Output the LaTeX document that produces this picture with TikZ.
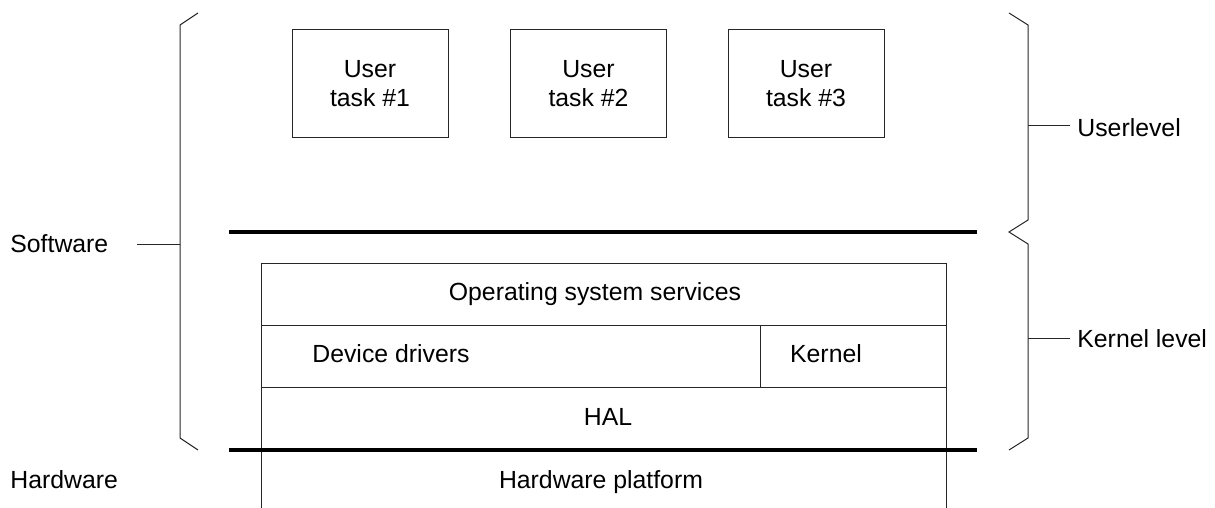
\documentclass[tikz,border=0pt]{standalone}
\usepackage{fontspec}
\setmainfont{Liberation Sans}
\begin{document}
\begin{tikzpicture}[x=0.5pt,y=-0.5pt,
  every node/.style={font=\fontsize{12.4}{14.5}\selectfont, inner sep=0pt},
  thin line/.style={line width=0.5pt, black!85},
  bar/.style={line width=2pt, black},
  label/.style={anchor=base west},
  celltext/.style={anchor=base},
  taskbox/.style={draw, thin line, text=black, minimum width=78pt, minimum height=54pt, align=center}]
\useasboundingbox (0,0) rectangle (1215,508);

% user tasks
\node[taskbox] (t1) at (370,84) {User\\task \#1};
\node[taskbox] (t2) at (588.5,84) {User\\task \#2};
\node[taskbox] (t3) at (806,84) {User\\task \#3};

% layer separators
\coordinate (s1a) at (229,232);
\coordinate (s1b) at (977,232);
\coordinate (s2a) at (229,450);
\coordinate (s2b) at (977,450);

% kernel stack
\draw[thin line] (261,508) -- (261,263) -- (946,263) -- (946,508);
\draw[thin line] (261,325) -- (946,325);
\draw[thin line] (261,387) -- (946,387);
\draw[thin line] (760,325) -- (760,387);
\draw[bar] (s1a) -- (s1b);
\draw[bar] (s2a) -- (s2b);

\node[celltext] (oss) at (595,300) {Operating system services};
\node[label] (dd) at (312,362) {Device drivers};
\node[celltext] (kern) at (826,362) {Kernel};
\node[celltext] (hal) at (608,425) {HAL};
\node[celltext] (hwp) at (601,488) {Hardware platform};

% left brace: software
\coordinate (lb1) at (198,13);
\coordinate (lb2) at (180,25);
\coordinate (lb3) at (180,438);
\coordinate (lb4) at (198,450);
\coordinate (lbm) at (180,244);
\draw[thin line] (lb1) -- (lb2) -- (lb3) -- (lb4);
\coordinate (swt) at (137,244);
\draw[thin line] (swt) -- (lbm);
\node[label] (sw) at (10,252) {Software};
\node[label] (hw) at (10,488) {Hardware};

% right braces: user level and kernel level
\coordinate (rb1) at (1009,13);
\coordinate (rb2) at (1028,25);
\coordinate (rb3) at (1028,220);
\coordinate (rb4) at (1009,232);
\coordinate (rb5) at (1028,244);
\coordinate (rb6) at (1028,438);
\coordinate (rb7) at (1009,450);
\draw[thin line] (rb1) -- (rb2) -- (rb3) -- (rb4) -- (rb5) -- (rb6) -- (rb7);
\coordinate (um) at (1028,126);
\coordinate (ut) at (1070,126);
\coordinate (km) at (1028,338);
\coordinate (kt) at (1070,338);
\draw[thin line] (um) -- (ut);
\draw[thin line] (km) -- (kt);
\node[label] (ul) at (1077,137) {Userlevel};
\node[label] (kl) at (1077,347) {Kernel level};
\end{tikzpicture}
\end{document}
